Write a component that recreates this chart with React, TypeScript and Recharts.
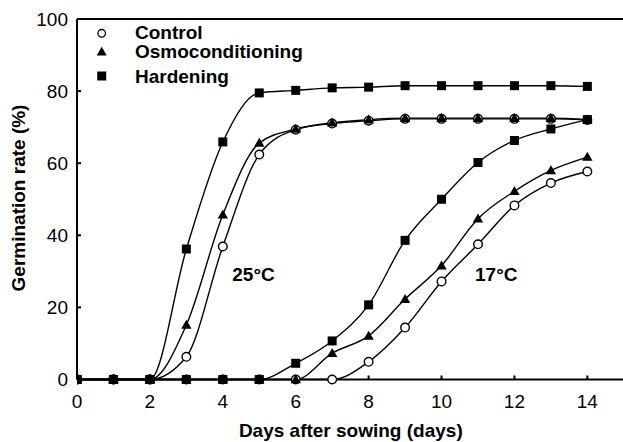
import { LineChart, Line, XAxis, YAxis, ReferenceLine } from 'recharts';

const days = [0, 1, 2, 3, 4, 5, 6, 7, 8, 9, 10, 11, 12, 13, 14];

// 25 °C series
const control25 = [0, 0, 0, 6.3, 36.9, 62.4, 69.3, 71, 71.8, 72.3, 72.3, 72.3, 72.3, 72.3, 72];
const osmo25 = [0, 0, 0, 15.1, 45.7, 65.6, 69.5, 71.2, 72.1, 72.5, 72.5, 72.5, 72.5, 72.5, 72.1];
const hard25 = [0, 0, 0, 36.2, 65.9, 79.5, 80.2, 80.9, 81.1, 81.5, 81.5, 81.5, 81.5, 81.5, 81.3];

// 17 °C series
const control17 = [0, 0, 0, 0, 0, 0, 0, 0, 4.9, 14.4, 27.2, 37.5, 48.3, 54.5, 57.7];
const osmo17 = [0, 0, 0, 0, 0, 0, 0, 7.3, 12.1, 22.3, 31.6, 44.6, 52.2, 58.0, 61.7];
const hard17 = [0, 0, 0, 0, 0, 0, 4.5, 10.7, 20.7, 38.6, 50.0, 60.2, 66.3, 69.5, 72.1];

const xTicks = [0, 2, 4, 6, 8, 10, 12, 14];
const yTicks = [0, 20, 40, 60, 80, 100];

const rows = days.map((d, i) => ({
  day: d,
  control25: control25[i],
  osmo25: osmo25[i],
  hard25: hard25[i],
  control17: control17[i],
  osmo17: osmo17[i],
  hard17: hard17[i],
}));

const FONT = '"Liberation Sans", Arial, Helvetica, sans-serif';
const INK = '#000';

const OpenCircle = (p: any) =>
  p.cx == null ? null : (
    <circle key={`c${p.index}`} cx={p.cx} cy={p.cy} r={4.3} fill="#fff" stroke={INK} strokeWidth={1.4} />
  );

const Tri = (p: any) =>
  p.cx == null ? null : (
    <path
      key={`t${p.index}`}
      d={`M${p.cx},${p.cy - 5.2} L${p.cx + 5.2},${p.cy + 3.8} L${p.cx - 5.2},${p.cy + 3.8} Z`}
      fill={INK}
    />
  );

const Sq = (p: any) =>
  p.cx == null ? null : (
    <rect key={`s${p.index}`} x={p.cx - 4.5} y={p.cy - 4.5} width={9} height={9} fill={INK} />
  );

const series = [
  { key: 'control25', dot: OpenCircle },
  { key: 'osmo25', dot: Tri },
  { key: 'hard25', dot: Sq },
  { key: 'control17', dot: OpenCircle },
  { key: 'osmo17', dot: Tri },
  { key: 'hard17', dot: Sq },
];

export default function App() {
  return (
    <div
      style={{
        position: 'absolute',
        left: 0,
        top: 0,
        width: 623,
        height: 442,
        overflow: 'hidden',
        background: '#fff',
        fontFamily: FONT,
      }}
    >
      <LineChart width={630} height={442} data={rows} margin={{ top: 19, right: 6.2, bottom: 0, left: 0 }}>
        <XAxis
          dataKey="day"
          type="number"
          domain={[0, 15]}
          ticks={xTicks}
          allowDataOverflow
          height={62.5}
          stroke={INK}
          strokeWidth={2}
          tickSize={-4}
          tickMargin={19.5}
          tick={{ fontSize: 19, fill: INK, fontFamily: FONT }}
        />
        <YAxis
          type="number"
          domain={[0, 100]}
          ticks={yTicks}
          width={77}
          stroke={INK}
          strokeWidth={2}
          tickSize={-4}
          tickMargin={13}
          tick={{ fontSize: 19, fill: INK, fontFamily: FONT }}
        />
        <ReferenceLine y={100} stroke={INK} strokeWidth={1.8} />
        {series.map((s) => (
          <Line
            key={s.key}
            dataKey={s.key}
            type="monotone"
            stroke={INK}
            strokeWidth={1.4}
            dot={s.dot}
            activeDot={false}
            isAnimationActive={false}
          />
        ))}
      </LineChart>
      <svg
        width={623}
        height={442}
        style={{ position: 'absolute', left: 0, top: 0, pointerEvents: 'none' }}
        fontFamily={FONT}
      >
        {/* legend */}
        <circle cx={101.7} cy={33.3} r={3.8} fill="#fff" stroke={INK} strokeWidth={1.3} />
        <path d="M101.7,46.7 L106.7,55.5 L96.7,55.5 Z" fill={INK} />
        <rect x={97.2} y={71.5} width={9} height={9} fill={INK} />
        <g fontSize={19} fontWeight="bold" fill={INK}>
          <text x={135} y={39}>Control</text>
          <text x={135} y={58.3}>Osmoconditioning</text>
          <text x={135} y={82.7}>Hardening</text>
          <text x={232.3} y={280.7}>25°C</text>
          <text x={475} y={280.7}>17°C</text>
          <text x={350.8} y={436.7} textAnchor="middle">
            Days after sowing (days)
          </text>
          <text x={25} y={198} textAnchor="middle" transform="rotate(-90 25 198)">
            Germination rate (%)
          </text>
        </g>
      </svg>
    </div>
  );
}
